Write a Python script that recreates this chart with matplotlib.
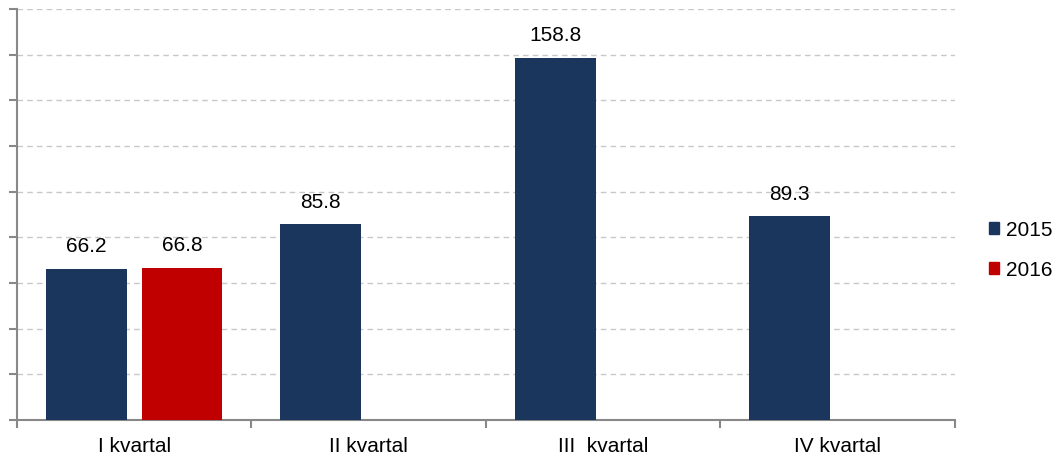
import numpy as np
import matplotlib.pyplot as plt
from matplotlib.patches import Patch

plt.rcParams['font.family'] = ['Liberation Sans', 'DejaVu Sans']

categories = ['I kvartal', 'II kvartal', 'III  kvartal', 'IV kvartal']
values_2015 = [66.2, 85.8, 158.8, 89.3]
values_2016 = [66.8]

c2015 = '#1b365d'
c2016 = '#c00000'

fig = plt.figure(figsize=(10.61, 4.59), dpi=100)
ax = fig.add_axes([0.016, 0.085, 0.884, 0.895])

x = np.arange(len(categories))
w = 0.345
off = 0.204
# first group has both years, others only 2015 (kept at left slot)
x15 = x - off
x16 = x[:len(values_2016)] + off
b1 = ax.bar(x15, values_2015, w, color=c2015, zorder=3)
b2 = ax.bar(x16, values_2016, w, color=c2016, zorder=3)

for bars, vals in ((b1, values_2015), (b2, values_2016)):
    for b, v in zip(bars, vals):
        ax.annotate(f'{v:.1f}', (b.get_x() + b.get_width() / 2, v),
                    xytext=(0, 9), textcoords='offset points',
                    ha='center', va='bottom', fontsize=15)

ax.set_xlim(-0.5, 3.5)
ax.set_ylim(0, 180)
ax.set_yticks(np.arange(0, 181, 20))
ax.set_yticklabels([])
ax.set_xticks(x)
ax.set_xticklabels(categories, fontsize=15)
ax.set_xticks(np.arange(-0.5, 3.6, 1), minor=True)
ax.tick_params(axis='x', which='major', length=0, pad=12)
ax.tick_params(axis='x', which='minor', length=6, color='#888888', width=1.5)
ax.tick_params(axis='y', length=6, color='#888888', width=1.5)
ax.grid(axis='y', color='#c8c8c8', linestyle=(0, (4, 3)), linewidth=1, zorder=0)

for s in ['top', 'right']:
    ax.spines[s].set_visible(False)
for s in ['left', 'bottom']:
    ax.spines[s].set_color('#888888')
    ax.spines[s].set_linewidth(1.5)

handles = [Patch(color=c2015, label='2015'), Patch(color=c2016, label='2016')]
fig.legend(handles=handles, loc='center left', bbox_to_anchor=(0.932, 0.455),
           frameon=False, fontsize=15, handlelength=0.5, handleheight=0.5,
           handletextpad=0.3, labelspacing=1.0, borderpad=0, borderaxespad=0)

fig.savefig('out.png', dpi=100)
